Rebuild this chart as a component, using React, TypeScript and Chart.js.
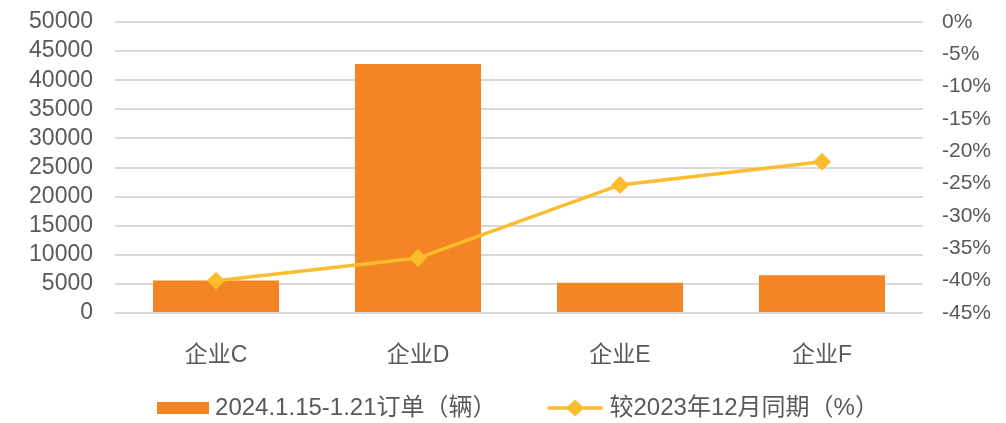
import React, { useEffect, useRef } from 'react';
import { Chart, registerables } from 'chart.js';

Chart.register(...registerables);

// ---- data ----
const categories = ['企业C', '企业D', '企业E', '企业F'];
const orderValues = [5600, 42800, 5200, 6500];
const yoyValues = [-40, -36.5, -25.2, -21.6];
const barLabel = '2024.1.15-1.21订单（辆）';
const lineLabel = '较2023年12月同期（%）';
const leftMin = 0;
const leftMax = 50000;
const leftStep = 5000;
const rightMin = -45;
const rightMax = 0;
const rightStep = 5;

// ---- styles ----
const BAR_COLOR = '#F38524';
const LINE_COLOR = '#FBBC2D';
const TEXT_COLOR = '#595959';
const GRID_COLOR = '#d9d9d9';
const MAIN_FONT = "'Liberation Sans', 'Noto Sans CJK SC', sans-serif";
const LEGEND_FONT = "'Liberation Sans', 'Noto Sans CJK TC', 'Noto Sans CJK SC', sans-serif";
const LEGEND_SIZE = 24;
const LEGEND_PAD = 25;
const LEGEND_PSW = 76;

function makeBarLegendImage(): HTMLCanvasElement {
  const c = document.createElement('canvas');
  c.width = 88;
  c.height = 12;
  const ctx = c.getContext('2d')!;
  ctx.fillStyle = BAR_COLOR;
  ctx.fillRect(36, 0, 52, 12);
  return c;
}

function makeLineLegendImage(): HTMLCanvasElement {
  const c = document.createElement('canvas');
  c.width = 90;
  c.height = 20;
  const ctx = c.getContext('2d')!;
  const left = 33;
  const right = 88;
  const cy = 10;
  ctx.strokeStyle = LINE_COLOR;
  ctx.lineWidth = 3.5;
  ctx.beginPath();
  ctx.moveTo(left, cy);
  ctx.lineTo(right, cy);
  ctx.stroke();
  const cx = (left + right) / 2;
  ctx.fillStyle = LINE_COLOR;
  ctx.beginPath();
  ctx.moveTo(cx, cy - 8.5);
  ctx.lineTo(cx + 9, cy);
  ctx.lineTo(cx, cy + 8.5);
  ctx.lineTo(cx - 9, cy);
  ctx.closePath();
  ctx.fill();
  return c;
}

export default function App() {
  const canvasRef = useRef<HTMLCanvasElement | null>(null);

  useEffect(() => {
    if (!canvasRef.current) return;
    const barImg = makeBarLegendImage();
    const lineImg = makeLineLegendImage();

    const chart = new Chart(canvasRef.current, {
      type: 'bar',
      data: {
        labels: categories,
        datasets: [
          {
            type: 'bar',
            label: barLabel,
            data: orderValues,
            backgroundColor: BAR_COLOR,
            borderWidth: 0,
            barPercentage: 0.624,
            categoryPercentage: 1,
            yAxisID: 'y',
            order: 1,
          },
          {
            type: 'line',
            label: lineLabel,
            data: yoyValues,
            borderColor: LINE_COLOR,
            backgroundColor: LINE_COLOR,
            borderWidth: 3.5,
            pointStyle: 'rectRot',
            pointRadius: 9,
            pointBackgroundColor: LINE_COLOR,
            pointBorderColor: LINE_COLOR,
            pointBorderWidth: 0,
            tension: 0,
            yAxisID: 'y1',
            order: 0,
          } as any,
        ],
      },
      options: {
        responsive: false,
        animation: false,
        layout: { padding: { top: 22, left: 0, right: 0, bottom: 0 } },
        plugins: {
          tooltip: { enabled: false },
          legend: {
            position: 'bottom',
            fullSize: true,
            maxHeight: 52,
            labels: {
              usePointStyle: true,
              pointStyleWidth: LEGEND_PSW,
              padding: LEGEND_PAD,
              color: TEXT_COLOR,
              font: { family: LEGEND_FONT, size: LEGEND_SIZE },
              generateLabels: () => [
                {
                  text: barLabel,
                  pointStyle: barImg,
                  fillStyle: BAR_COLOR,
                  strokeStyle: 'rgba(0,0,0,0)',
                  lineWidth: 0,
                  hidden: false,
                  datasetIndex: 0,
                  fontColor: TEXT_COLOR,
                } as any,
                {
                  text: lineLabel,
                  pointStyle: lineImg,
                  fillStyle: LINE_COLOR,
                  strokeStyle: 'rgba(0,0,0,0)',
                  lineWidth: 0,
                  hidden: false,
                  datasetIndex: 1,
                  fontColor: TEXT_COLOR,
                } as any,
              ],
            },
          },
        },
        scales: {
          x: {
            grid: { display: false },
            border: { display: false },
            ticks: {
              color: TEXT_COLOR,
              font: { family: MAIN_FONT, size: 23 },
              padding: 21,
              maxRotation: 0,
              autoSkip: false,
            },
            afterFit: (s: any) => {
              s.height = 58;
            },
          },
          y: {
            position: 'left',
            min: leftMin,
            max: leftMax,
            grid: { color: GRID_COLOR, lineWidth: 2, drawTicks: false },
            border: { display: false },
            ticks: {
              stepSize: leftStep,
              autoSkip: false,
              color: TEXT_COLOR,
              font: { family: MAIN_FONT, size: 23 },
              padding: 22,
              callback: (v: any) => String(v),
            },
            afterFit: (s: any) => {
              s.width = 115;
              s.paddingTop = 0;
              s.paddingBottom = 0;
            },
          },
          y1: {
            position: 'right',
            min: rightMin,
            max: rightMax,
            grid: { display: false, drawTicks: false },
            border: { display: false },
            ticks: {
              stepSize: rightStep,
              autoSkip: false,
              color: TEXT_COLOR,
              font: { family: MAIN_FONT, size: 21 },
              padding: 19,
              callback: (v: any) => `${Math.round(Number(v))}%`,
            },
            afterFit: (s: any) => {
              s.width = 83;
              s.paddingTop = 0;
              s.paddingBottom = 0;
            },
          },
        },
      },
    });
    return () => chart.destroy();
  }, []);

  return (
    <div style={{ position: 'fixed', left: 0, top: 0, width: 1006, height: 423, background: '#fff' }}>
      <canvas ref={canvasRef} width={1006} height={423} />
    </div>
  );
}
